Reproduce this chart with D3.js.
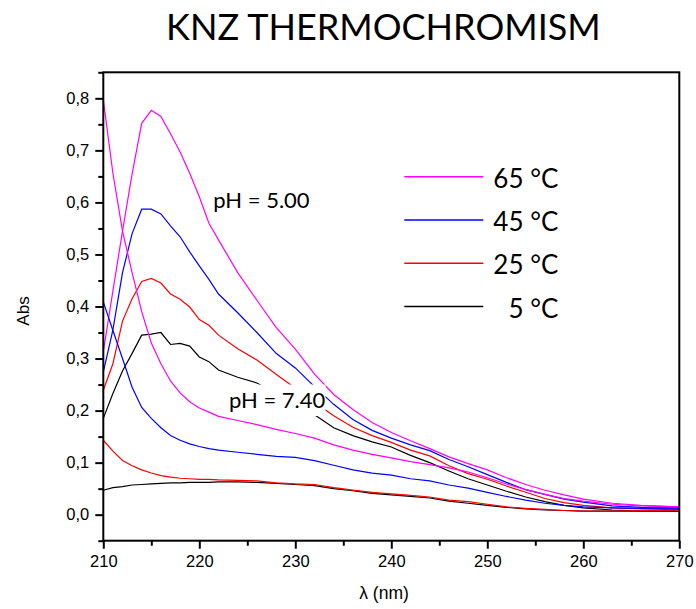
<!DOCTYPE html>
<html>
<head>
<meta charset="utf-8">
<script src="https://cdn.jsdelivr.net/npm/d3@7"></script>
<style>
  body { margin: 0; background: #fff; }
  svg { display: block; }
</style>
</head>
<body>
<div id="chart"></div>
<script>
// wavelength grid (nm)
const wavelengths = [210, 211, 212, 213, 214, 215, 216, 217, 218, 219, 220, 221, 222,
  224, 226, 228, 230, 232, 234, 236, 238, 240, 242, 244, 246, 248, 250,
  252, 254, 256, 258, 260, 263, 266, 270];

// pH = 5.00
const abs65_ph5 = [0.313, 0.43, 0.545, 0.655, 0.752, 0.777, 0.765, 0.732, 0.697, 0.656, 0.611, 0.56, 0.528,
  0.465, 0.412, 0.36, 0.318, 0.27, 0.231, 0.202, 0.177, 0.158, 0.142, 0.127, 0.111, 0.098, 0.086,
  0.071, 0.058, 0.047, 0.038, 0.030, 0.022, 0.018, 0.015];
const abs45_ph5 = [0.274, 0.355, 0.465, 0.54, 0.587, 0.587, 0.578, 0.555, 0.534, 0.505, 0.478, 0.452, 0.424,
  0.388, 0.35, 0.31, 0.282, 0.246, 0.212, 0.183, 0.162, 0.147, 0.134, 0.123, 0.106, 0.092, 0.077,
  0.062, 0.048, 0.039, 0.030, 0.024, 0.017, 0.014, 0.013];
const abs25_ph5 = [0.239, 0.29, 0.372, 0.415, 0.448, 0.454, 0.445, 0.424, 0.414, 0.399, 0.375, 0.364, 0.345,
  0.319, 0.297, 0.27, 0.243, 0.216, 0.19, 0.168, 0.152, 0.139, 0.124, 0.113, 0.094, 0.079, 0.068,
  0.055, 0.043, 0.031, 0.023, 0.018, 0.013, 0.011, 0.0096];
const abs5_ph5 = [0.185, 0.233, 0.276, 0.31, 0.345, 0.347, 0.35, 0.327, 0.329, 0.324, 0.303, 0.294, 0.278,
  0.264, 0.253, 0.233, 0.213, 0.192, 0.167, 0.152, 0.14, 0.13, 0.114, 0.1, 0.084, 0.069, 0.057,
  0.045, 0.034, 0.025, 0.018, 0.013, 0.009, 0.0075, 0.007];

// pH = 7.40
const abs65_ph7 = [0.797, 0.656, 0.545, 0.465, 0.39, 0.33, 0.29, 0.257, 0.234, 0.217, 0.205, 0.197, 0.189,
  0.181, 0.173, 0.164, 0.156, 0.147, 0.134, 0.124, 0.116, 0.109, 0.102, 0.096, 0.09, 0.082, 0.071,
  0.059, 0.048, 0.039, 0.031, 0.026, 0.02, 0.017, 0.015];
const abs45_ph7 = [0.409, 0.354, 0.3, 0.245, 0.206, 0.185, 0.167, 0.152, 0.143, 0.136, 0.131, 0.127, 0.124,
  0.12, 0.116, 0.112, 0.11, 0.104, 0.095, 0.086, 0.08, 0.076, 0.069, 0.065, 0.057, 0.051, 0.043,
  0.035, 0.028, 0.022, 0.018, 0.015, 0.013, 0.012, 0.011];
const abs25_ph7 = [0.143, 0.122, 0.104, 0.094, 0.086, 0.08, 0.075, 0.072, 0.07, 0.069, 0.068, 0.068, 0.067,
  0.066, 0.065, 0.061, 0.059, 0.058, 0.052, 0.047, 0.043, 0.04, 0.037, 0.034, 0.028, 0.025, 0.02,
  0.015, 0.012, 0.01, 0.008, 0.007, 0.007, 0.008, 0.008];
const abs5_ph7 = [0.047, 0.052, 0.054, 0.057, 0.058, 0.059, 0.06, 0.061, 0.061, 0.062, 0.062, 0.062, 0.063,
  0.063, 0.062, 0.06, 0.058, 0.056, 0.05, 0.046, 0.041, 0.038, 0.035, 0.032, 0.026, 0.022, 0.018,
  0.014, 0.011, 0.009, 0.008, 0.007, 0.007, 0.007, 0.007];

const legendLabels = ["65 °C", "45 °C", "25 °C", "5 °C"];
const seriesColors = ["#ff00ff", "#0000ff", "#ff0000", "#000000"];
const xTicks = [210, 220, 230, 240, 250, 260, 270];
const yTicks = [0, 0.1, 0.2, 0.3, 0.4, 0.5, 0.6, 0.7, 0.8];

const series = [
  { values: abs65_ph5, color: seriesColors[0] },
  { values: abs45_ph5, color: seriesColors[1] },
  { values: abs5_ph5, color: seriesColors[3] },
  { values: abs25_ph5, color: seriesColors[2] },
  { values: abs65_ph7, color: seriesColors[0] },
  { values: abs45_ph7, color: seriesColors[1] },
  { values: abs5_ph7, color: seriesColors[3] },
  { values: abs25_ph7, color: seriesColors[2] }
];

const outerWidth = 696;
const outerHeight = 609;
const margin = { top: 72.3, right: 16.7, bottom: 68.3, left: 103.3 };
const width = outerWidth - margin.left - margin.right;
const height = outerHeight - margin.top - margin.bottom;

const root = d3.select("#chart")
  .append("svg")
  .attr("width", outerWidth)
  .attr("height", outerHeight);

const svg = root.append("g")
  .attr("transform", `translate(${margin.left},${margin.top})`);

const x = d3.scaleLinear().domain([210, 270]).range([0, width]);
const y = d3.scaleLinear().domain([-0.05, 0.85]).range([height, 0]);

const fmt = d => d3.format(".1f")(d).replace(".", ",");
const axisFont = "16.5px 'Liberation Sans', Arial, sans-serif";

// minor ticks first, then major ones with labels
svg.append("g")
  .attr("transform", `translate(0,${height})`)
  .call(d3.axisBottom(x).tickValues(d3.range(215, 270, 10)).tickSize(5).tickFormat(""))
  .call(g => g.select(".domain").remove());

svg.append("g")
  .call(d3.axisLeft(y).tickValues(d3.range(-0.05, 0.9, 0.1)).tickSize(5).tickFormat(""))
  .call(g => g.select(".domain").remove());

svg.append("g")
  .attr("transform", `translate(0,${height})`)
  .call(d3.axisBottom(x).tickValues(xTicks).tickSize(8).tickPadding(7).tickFormat(d3.format("d")))
  .call(g => g.select(".domain").remove())
  .style("font", axisFont);

svg.append("g")
  .call(d3.axisLeft(y).tickValues(yTicks).tickSize(8).tickPadding(6).tickFormat(fmt))
  .call(g => g.select(".domain").remove())
  .style("font", axisFont);

svg.selectAll(".tick line").attr("stroke", "#000").attr("stroke-width", 2);
svg.selectAll(".tick text").attr("fill", "#000");

const line = d3.line()
  .x((d, i) => x(wavelengths[i]))
  .y(d => y(d));

svg.append("g")
  .selectAll("path")
  .data(series)
  .enter()
  .append("path")
  .attr("d", d => line(d.values))
  .attr("fill", "none")
  .attr("stroke", d => d.color)
  .attr("stroke-width", 1.2);

// frame
svg.append("rect")
  .attr("width", width)
  .attr("height", height)
  .attr("fill", "none")
  .attr("stroke", "#000")
  .attr("stroke-width", 2);

// annotations
const lbl = "Lato, 'Open Sans', sans-serif";
root.append("text")
  .attr("x", 213.3).attr("y", 208.3)
  .style("font", `22px ${lbl}`)
  .text("pH = 5.00");

root.append("rect")
  .attr("x", 226).attr("y", 384.5)
  .attr("width", 99.5).attr("height", 31.5)
  .attr("fill", "#fff");

root.append("text")
  .attr("x", 229).attr("y", 408.3)
  .style("font", `22px ${lbl}`)
  .text("pH = 7.40");

// legend
const legend = root.append("g")
  .selectAll("g")
  .data(legendLabels)
  .enter()
  .append("g")
  .attr("transform", (d, i) => `translate(0,${176.7 + i * 43.3})`);

legend.append("line")
  .attr("x1", 404.3).attr("x2", 483.3)
  .attr("stroke", (d, i) => seriesColors[i])
  .attr("stroke-width", 1.5);

legend.append("text")
  .attr("x", 558.3).attr("y", 11)
  .attr("text-anchor", "end")
  .style("font", `26px ${lbl}`)
  .text(d => d);

// title and axis labels
root.append("text")
  .attr("x", 383.4).attr("y", 40)
  .attr("text-anchor", "middle")
  .style("font", `36px ${lbl}`)
  .text("KNZ THERMOCHROMISM");

root.append("text")
  .attr("transform", "translate(29,311) rotate(-90)")
  .attr("text-anchor", "middle")
  .style("font", "17px 'Liberation Sans', Arial, sans-serif")
  .text("Abs");

root.append("text")
  .attr("x", 384).attr("y", 599)
  .attr("text-anchor", "middle")
  .style("font", "17.5px 'Liberation Sans', Arial, sans-serif")
  .text("λ (nm)");
</script>
</body>
</html>
